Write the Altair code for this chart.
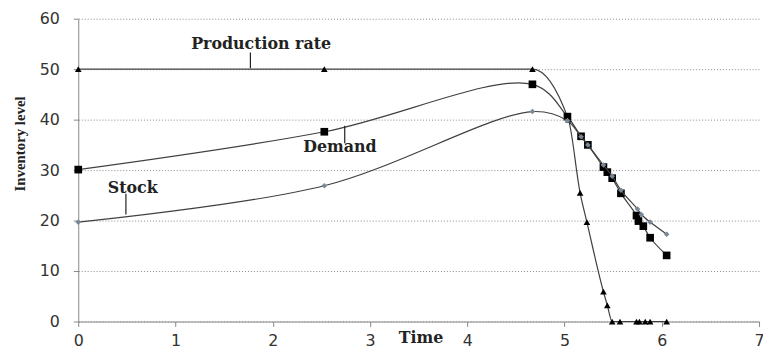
import altair as alt
import pandas as pd

# Production rate series
prod_time = [0, 2.53, 4.67, 5.04, 5.16, 5.23, 5.40, 5.44, 5.49, 5.57, 5.74, 5.77, 5.83, 5.88, 6.05]
prod_level = [50, 50, 50, 40, 25.5, 19.7, 5.9, 3.2, 0, 0, 0, 0, 0, 0, 0]

# Demand series
dem_time = [0, 2.53, 4.67, 5.03, 5.17, 5.24, 5.40, 5.44, 5.49, 5.58, 5.74, 5.76, 5.81, 5.88, 6.05]
dem_level = [30.1, 37.6, 47.0, 40.6, 36.7, 35.0, 30.6, 29.6, 28.4, 25.4, 21.0, 19.9, 18.9, 16.6, 13.1]

# Stock series
stock_time = [0, 2.53, 4.67, 5.03, 5.17, 5.24, 5.40, 5.49, 5.58, 5.75, 5.79, 5.88, 6.05]
stock_level = [19.7, 26.9, 41.6, 39.8, 36.6, 35.0, 31.0, 28.8, 26.0, 22.3, 21.2, 19.7, 17.3]

# Annotation labels
label_text = ["Production rate", "Demand", "Stock"]
label_x = [1.88, 2.69, 0.56]
label_y = [54.9, 34.5, 26.5]
leader_x = [1.77, 2.74, 0.49]
leader_top = [53.3, 38.8, 25.3]
leader_bottom = [50.2, 35.3, 21.2]

prod_df = pd.DataFrame({"t": prod_time, "v": prod_level})
dem_df = pd.DataFrame({"t": dem_time, "v": dem_level})
stock_df = pd.DataFrame({"t": stock_time, "v": stock_level})
lab_df = pd.DataFrame({"text": label_text, "x": label_x, "y": label_y,
                       "lx": leader_x, "ly1": leader_top, "ly2": leader_bottom})

xscale = alt.Scale(domain=[0, 7], nice=False)
yscale = alt.Scale(domain=[0, 60], nice=False)

xaxis = alt.Axis(values=list(range(0, 8)), format="d", grid=False, title="Time",
                 titleFont="DejaVu Serif", titleFontWeight="bold", titleFontSize=16,
                 titleX=346, titleY=16, titleBaseline="middle", titleAlign="center",
                 titleColor="#222222",
                 labelFont="DejaVu Sans", labelFontSize=16, labelColor="#333333",
                 labelPadding=6, tickSize=5, tickColor="#888888", domainColor="#888888",
                 labelFlush=False)
yaxis = alt.Axis(values=list(range(0, 61, 10)), format="d", grid=True, gridDash=[1, 2],
                 gridColor="#888888", title="Inventory level",
                 titleFont="Liberation Serif", titleFontWeight="bold", titleFontSize=15,
                 titleX=-59, titleY=126, titleAngle=270, titleBaseline="middle",
                 titleAlign="center", titleColor="#222222",
                 labelFont="DejaVu Sans", labelFontSize=16, labelColor="#333333",
                 labelPadding=14, tickSize=5, tickColor="#888888", domainColor="#888888")

X = alt.X("t:Q", scale=xscale, axis=xaxis)
Y = alt.Y("v:Q", scale=yscale, axis=yaxis)

line_color = "#404040"

def series(df, shape, color, size, interp):
    base = alt.Chart(df)
    ln = base.mark_line(interpolate=interp, color=line_color, strokeWidth=1.2).encode(x=X, y=Y)
    pt = base.mark_point(shape=shape, filled=True, color=color, size=size, opacity=1).encode(x=X, y=Y)
    return ln + pt

prod_layer = series(prod_df, "triangle-up", "#000000", 45, "monotone")
dem_layer = series(dem_df, "square", "#000000", 60, "catmull-rom")
stock_layer = series(stock_df, "diamond", "#7a8796", 32, "catmull-rom")

leaders = alt.Chart(lab_df).mark_rule(color="#202020", strokeWidth=1.2).encode(
    x=alt.X("lx:Q", scale=xscale), y=alt.Y("ly1:Q", scale=yscale), y2="ly2:Q")
labels = alt.Chart(lab_df).mark_text(font="DejaVu Serif", fontWeight="bold", fontSize=16,
                                      color="#222222").encode(
    x=alt.X("x:Q", scale=xscale), y=alt.Y("y:Q", scale=yscale), text="text:N")

chart = alt.layer(prod_layer, dem_layer, stock_layer, leaders, labels).properties(
    width=688, height=306,
    autosize=alt.AutoSizeParams(type="none"),
    padding={"left": 71, "top": 9, "right": 4, "bottom": 30},
).configure_view(stroke=None)

chart.save("out.html", embed_options={"renderer": "svg", "actions": False})
